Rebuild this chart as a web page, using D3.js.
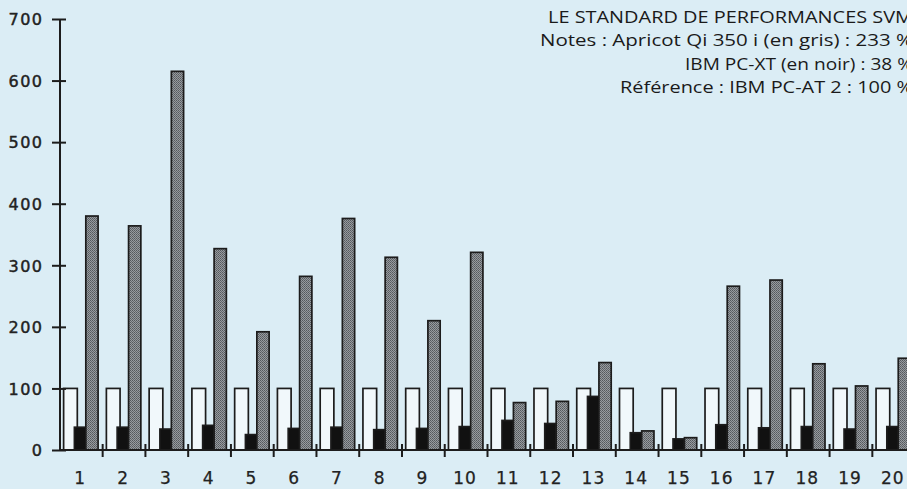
<!DOCTYPE html>
<html>
<head>
<meta charset="utf-8">
<script src="https://cdn.jsdelivr.net/npm/d3@7"></script>
<style>
  html, body { margin: 0; padding: 0; background: #dbedf5; overflow: hidden; }
  svg { display: block; }
</style>
</head>
<body>
<svg id="chart" width="907" height="489"></svg>
<script>
// Benchmark groups 1..20
const categories = ["1","2","3","4","5","6","7","8","9","10","11","12","13","14","15","16","17","18","19","20"];
// Reference machine IBM PC-AT 2 (white bars)
const referenceValues = [100,100,100,100,100,100,100,100,100,100,100,100,100,100,100,100,100,100,100,100];
// IBM PC-XT (black bars)
const xtValues = [37,37,34,40,25,35,37,33,35,38,48,43,87,28,18,41,36,38,34,38];
// Apricot Qi 350 i (grey bars)
const apricotValues = [380,364,615,327,192,282,376,313,210,321,77,79,142,31,20,266,276,140,104,149];
// Y axis ticks
const yTicks = [0,100,200,300,400,500,600,700];
// Title block lines
const titleLines = [
  "LE STANDARD DE PERFORMANCES SVM",
  "Notes : Apricot Qi 350 i (en gris) : 233 %",
  "IBM PC-XT (en noir) : 38 %",
  "Référence : IBM PC-AT 2 : 100 %"
];

const svg = d3.select("#chart");
const ink = "#1c1c1c";

// Stippled fill for the grey series
const defs = svg.append("defs");
const pat = defs.append("pattern")
  .attr("id", "stipple").attr("patternUnits", "userSpaceOnUse")
  .attr("width", 2).attr("height", 2);
pat.append("rect").attr("width", 2).attr("height", 2).attr("fill", "#979b9f");
pat.append("rect").attr("width", 1).attr("height", 1).attr("fill", "#55595d");
pat.append("rect").attr("x", 1).attr("y", 1).attr("width", 1).attr("height", 1).attr("fill", "#64686c");

const x0 = 59.9, step = 42.76;
const x = d3.scaleBand().domain(categories).range([x0, x0 + step * categories.length]).padding(0);
const y = d3.scaleLinear().domain([0, 700]).range([450, 19]);
// position inside a group, as a fraction of the band
const inner = d3.scaleLinear().domain([0, 1]).range([0, x.bandwidth()]);

const slots = {
  ref: [0.087, 0.407],
  xt: [0.339, 0.606],
  apr: [0.606, 0.893]
};

function drawSeries(values, slot, fill, cls) {
  svg.append("g").attr("class", cls)
    .selectAll("rect").data(values).join("rect")
    .attr("x", (d, i) => x(categories[i]) + inner(slot[0]))
    .attr("width", inner(slot[1]) - inner(slot[0]))
    .attr("y", d => y(d))
    .attr("height", d => y(0) - y(d))
    .attr("fill", fill)
    .attr("stroke", ink)
    .attr("stroke-width", 1.7);
}

drawSeries(referenceValues, slots.ref, "#f1f8fb", "ref");
drawSeries(xtValues, slots.xt, "#111", "xt");
drawSeries(apricotValues, slots.apr, "url(#stipple)", "apricot");

// Y axis
const yAxis = d3.axisLeft(y).tickValues(yTicks).tickSize(0).tickPadding(16);
const gy = svg.append("g").attr("transform", "translate(59.5,0)").call(yAxis);
gy.select(".domain").attr("stroke", ink).attr("stroke-width", 2);
gy.selectAll(".tick line").attr("x1", -7.5).attr("x2", 6.5).attr("stroke", ink).attr("stroke-width", 2);
gy.selectAll("text")
  .attr("font-family", "DejaVu Sans")
  .attr("font-size", 16).attr("fill", "#222")
  .attr("stroke", "#222").attr("stroke-width", 0.45)
  .attr("letter-spacing", 1.5)
  .attr("dy", "0.36em");

// X axis baseline with separators between groups
svg.append("line")
  .attr("x1", x0 - 0.5).attr("x2", 907).attr("y1", y(0)).attr("y2", y(0))
  .attr("stroke", ink).attr("stroke-width", 2);
svg.append("g").selectAll("line").data(categories.slice(1)).join("line")
  .attr("x1", d => x(d)).attr("x2", d => x(d))
  .attr("y1", y(0) - 6).attr("y2", y(0) + 7)
  .attr("stroke", ink).attr("stroke-width", 2);
svg.append("g").selectAll("text").data(categories).join("text")
  .attr("x", d => x(d) + x.bandwidth() / 2 - 1)
  .attr("y", 484)
  .attr("text-anchor", "middle")
  .attr("font-family", "DejaVu Sans")
  .attr("font-size", 17).attr("fill", "#222")
  .attr("stroke", "#222").attr("stroke-width", 0.25)
  .attr("letter-spacing", 1)
  .text(d => d);

// Title block, right aligned
const titleWidths = [365, 373, 228, 293];
svg.append("g").selectAll("text").data(titleLines).join("text")
  .attr("x", 913)
  .attr("y", (d, i) => 23 + i * 23.3)
  .attr("text-anchor", "end")
  .attr("font-family", "Open Sans")
  .attr("font-size", 17)
  .attr("fill", "#1a1a1a")
  .attr("textLength", (d, i) => titleWidths[i])
  .attr("lengthAdjust", "spacingAndGlyphs")
  .text(d => d);
</script>
</body>
</html>
